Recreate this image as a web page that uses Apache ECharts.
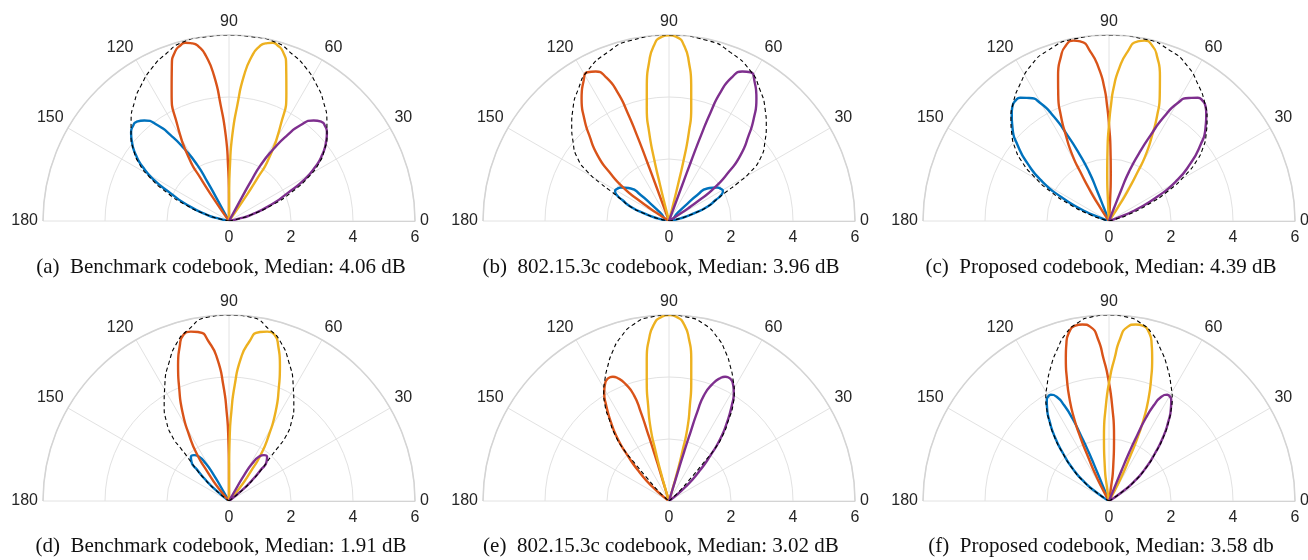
<!DOCTYPE html>
<html>
<head>
<meta charset="utf-8">
<script src="https://cdn.jsdelivr.net/npm/echarts@6/dist/echarts.min.js"></script>
<style>
html,body{margin:0;padding:0;background:#fff;}
#c{width:1308px;height:560px;}
</style>
</head>
<body>
<div id="c"></div>
<script>
// Data: each point is [radius, angle in degrees]
const angleTicks = [0, 30, 60, 90, 120, 150, 180];
const radiusTicks = [0, 2, 4, 6];
const captions = [
  '(a)  Benchmark codebook, Median: 4.06 dB',
  '(b)  802.15.3c codebook, Median: 3.96 dB',
  '(c)  Proposed codebook, Median: 4.39 dB',
  '(d)  Benchmark codebook, Median: 1.91 dB',
  '(e)  802.15.3c codebook, Median: 3.02 dB',
  '(f)  Proposed codebook, Median: 3.58 db'
];

// ---- (a) ----
const a_blue = [[0,118.3],[0.85,118.6],[1.44,118.85],[2.07,119.5],[2.75,121.8],[3.34,124.15],[3.85,126.7],[4.24,130.1],[4.38,133.2],[4.36,135.2],[4.27,137.7],[4.04,140.8],[3.68,144.7],[3.29,147.9],[2.75,151.3],[2.08,154.6],[1.44,159.0],[0.72,164.5],[0.3,167],[0,169]];
const a_red = [[0,89.6],[0.9,90.3],[1.8,91.0],[2.77,92.2],[3.74,94.1],[4.72,95.9],[5.39,98.0],[5.7,99.8],[5.85,101.6],[5.92,103.8],[5.88,105.4],[5.74,107.6],[5.34,110.2],[4.55,114.0],[3.51,118.3],[2.39,122.5],[1.65,123.6],[0.76,124.6],[0,125.4]];
const a_orange = [[0,54.6],[0.76,55.4],[1.65,56.4],[2.39,57.5],[3.51,61.7],[4.55,66.0],[5.34,69.8],[5.74,72.4],[5.88,74.6],[5.92,76.2],[5.85,78.4],[5.7,80.2],[5.39,82.0],[4.72,84.1],[3.74,85.9],[2.77,87.8],[1.8,89.0],[0.9,89.7],[0,90.4]];
const a_purple = [[0,11],[0.3,13],[0.72,15.5],[1.44,21.0],[2.08,25.4],[2.75,28.7],[3.29,32.1],[3.68,35.3],[4.04,39.2],[4.27,42.3],[4.36,44.8],[4.38,46.8],[4.24,49.9],[3.85,53.3],[3.34,55.85],[2.75,58.2],[2.07,60.5],[1.44,61.15],[0.85,61.4],[0,61.7]];
const a_env = [[0,9],[0.3,12],[0.72,15.5],[1.49,20.3],[2.24,24.8],[2.94,29],[3.44,32.6],[3.83,36.6],[4.2,41.2],[4.49,45.3],[4.9,51.5],[5.21,57],[5.54,63.6],[5.76,69.3],[5.96,75.4],[5.99,83.3],[6.0,90],[5.99,96.7],[5.96,104.6],[5.76,110.7],[5.54,116.4],[5.21,123],[4.9,128.5],[4.49,134.7],[4.2,138.8],[3.83,143.4],[3.44,147.4],[2.94,151],[2.24,155.2],[1.49,159.7],[0.72,164.5],[0.3,168],[0,171]];

// ---- (b) ----
const b_blue = [[0,8],[0.38,13],[0.84,17],[1.32,20.5],[1.65,24.2],[1.88,26.4],[1.99,29.05],[1.96,32],[1.89,34.9],[1.62,40.4],[1.24,42.5],[0.82,43.2],[0.4,43.5],[0,43.7],[0,90],[0,136.3],[0.4,136.5],[0.82,136.8],[1.24,137.5],[1.62,139.6],[1.89,145.1],[1.96,148],[1.99,150.95],[1.88,153.6],[1.65,155.8],[1.32,159.5],[0.84,163],[0.38,167],[0,172]];
const b_red = [[0,109.8],[1.23,110.2],[2.03,110.3],[2.95,110.5],[3.76,110.95],[4.48,111.8],[5.07,113.7],[5.37,116.1],[5.47,118.7],[5.3,121.3],[4.85,125.55],[4.29,129.6],[3.78,132.9],[3.13,137.4],[2.5,140.6],[1.79,144.0],[1.1,145.7],[0.5,146.8],[0,147.5]];
const b_orange = [[0,75.7],[0.5,75.9],[1.19,76.1],[2.07,76.5],[2.94,77.4],[3.69,78.8],[4.43,80.7],[5.16,82.85],[5.68,85.1],[5.93,87.4],[5.99,90],[5.93,92.6],[5.68,94.9],[5.16,97.15],[4.43,99.3],[3.69,101.2],[2.94,102.6],[2.07,103.5],[1.19,103.9],[0.5,104.1],[0,104.3]];
const b_purple = [[0,32.5],[0.5,33.2],[1.1,34.3],[1.79,36.0],[2.5,39.4],[3.13,42.6],[3.78,47.1],[4.29,50.4],[4.85,54.45],[5.3,58.7],[5.47,61.3],[5.37,63.9],[5.07,66.3],[4.48,68.2],[3.76,69.05],[2.95,69.5],[2.03,69.7],[1.23,69.8],[0,70.2]];
const b_env = [[0,8],[0.4,13],[0.86,17],[1.34,20.5],[1.68,24.2],[2.05,26.9],[2.55,28.9],[3.07,31.1],[3.57,34.4],[4.01,39.5],[4.4,44.5],[4.77,49.5],[5.17,55.6],[5.5,61.3],[5.79,70],[5.95,78],[6.0,90],[5.95,102],[5.79,110],[5.5,118.7],[5.17,124.4],[4.77,130.5],[4.4,135.5],[4.01,140.5],[3.57,145.6],[3.07,148.9],[2.55,151.1],[2.05,153.1],[1.68,155.8],[1.34,159.5],[0.86,163],[0.4,167],[0,172]];

// ---- (c) ----
const c_blue = [[0,111],[0.44,111.2],[1.06,111.5],[1.71,112.1],[2.38,113.9],[3.07,115.85],[3.79,117.8],[4.38,120.1],[4.73,123],[4.9,125.8],[4.92,127.6],[4.84,130],[4.67,132.2],[4.31,136.2],[3.83,140.3],[3.21,144.8],[2.49,149.5],[1.74,153.3],[0.99,157],[0.4,159.6],[0,161.5]];
const c_red = [[0,86.5],[0.7,87],[1.5,87.8],[2.3,88.8],[3.1,90],[3.75,91],[4.3,92],[4.92,93.75],[5.48,96.2],[5.86,98.95],[5.93,101.15],[5.83,103.8],[5.51,106.4],[4.97,109.3],[4.37,112],[3.75,114.5],[3.1,116.7],[2.43,119.1],[1.83,120.3],[1.11,122],[0.49,123.3],[0,124]];
const c_orange = [[0,56],[0.49,56.7],[1.11,58],[1.83,59.7],[2.43,60.9],[3.1,63.3],[3.75,65.5],[4.37,68],[4.97,70.7],[5.51,73.6],[5.83,76.2],[5.93,78.85],[5.86,81.05],[5.48,83.8],[4.92,86.25],[4.3,88],[3.75,89],[3.1,90],[2.3,91.2],[1.5,92.2],[0.7,93],[0,93.5]];
const c_purple = [[0,18.5],[0.4,20.4],[0.99,23],[1.74,26.7],[2.49,30.5],[3.21,35.2],[3.83,39.7],[4.31,43.8],[4.67,47.8],[4.84,50],[4.92,52.4],[4.9,54.2],[4.73,57],[4.38,59.9],[3.79,62.2],[3.07,64.15],[2.38,66.1],[1.71,67.9],[1.06,68.5],[0.44,68.8],[0,69]];
const c_env = [[0,13],[0.2,15],[0.62,18.1],[1.34,22.7],[2.1,26.7],[2.87,31],[3.45,34.6],[3.82,37.7],[4.18,41.5],[4.57,46.2],[4.9,50.9],[5.27,57.1],[5.61,63.3],[5.84,70.2],[5.98,79.2],[6.0,90],[5.98,100.8],[5.84,109.8],[5.61,116.7],[5.27,122.9],[4.9,129.1],[4.57,133.8],[4.18,138.5],[3.82,142.3],[3.45,145.4],[2.87,149],[2.1,153.3],[1.34,157.3],[0.62,161.9],[0.2,165],[0,167]];

// ---- (d) ----
const d_blue = [[0,119.8],[0.41,120],[0.97,120.3],[1.42,121.8],[1.72,124.1],[1.86,127.3],[1.88,130.8],[1.75,133.8],[1.42,135.6],[1.01,138],[0.56,140.5],[0,143.5]];
const d_red = [[0,89.8],[1.0,90.2],[2.01,90.6],[2.87,91.5],[3.73,92.8],[4.6,94.7],[5.16,97.15],[5.53,100.05],[5.6,102.7],[5.56,105.3],[5.26,107.55],[4.67,110.6],[3.96,113.9],[3.24,117.6],[2.48,121.2],[1.8,124.5],[1.17,126.4],[0.59,129.1],[0,131]];
const d_orange = [[0,49],[0.59,50.9],[1.17,53.6],[1.8,55.5],[2.48,58.8],[3.24,62.4],[3.96,66.1],[4.67,69.4],[5.26,72.45],[5.56,74.7],[5.6,77.3],[5.53,79.95],[5.16,82.85],[4.6,85.3],[3.73,87.2],[2.87,88.5],[2.01,89.4],[1.0,89.8],[0,90.2]];
const d_purple = [[0,36.5],[0.56,39.5],[1.01,42],[1.42,44.4],[1.75,46.2],[1.88,49.2],[1.86,52.7],[1.72,55.9],[1.42,58.2],[0.97,59.7],[0.41,60],[0,60.2]];
const d_env = [[0,35],[0.1,36.5],[0.62,39.5],[1.08,42],[1.45,44],[1.72,45.5],[2.0,46.8],[2.3,47.5],[2.76,48.6],[3.25,51.7],[3.73,55.9],[4.27,61],[4.88,66.7],[5.39,72],[5.66,76.3],[5.97,83.3],[6.0,90],[5.97,96.7],[5.66,103.7],[5.39,108],[4.88,113.3],[4.27,119],[3.73,124.1],[3.25,128.3],[2.76,131.4],[2.3,132.5],[2.0,133.2],[1.72,134.5],[1.45,136],[1.08,138],[0.62,140.5],[0.1,143.5],[0,145]];

// ---- (e) ----
const e_red = [[0,106.6],[1.1,107],[1.66,107.1],[2.34,107.35],[3.01,107.6],[3.59,108.3],[4.01,110.3],[4.3,112.7],[4.4,114.3],[4.42,115.9],[4.39,117.3],[4.31,118.55],[4.07,120.9],[3.69,123.3],[3.17,126.3],[2.61,129.5],[2.0,132.2],[1.35,135.6],[0.71,139.3],[0,142.5]];
const e_orange = [[0,73],[0.37,73.4],[0.98,74.1],[1.64,74.9],[2.41,75.8],[3.16,77.7],[3.9,79.4],[4.64,81.1],[5.27,83],[5.73,85.2],[5.93,87.4],[6.0,90],[5.93,92.6],[5.73,94.8],[5.27,97],[4.64,98.9],[3.9,100.6],[3.16,102.3],[2.41,104.2],[1.64,105.1],[0.98,105.9],[0.37,106.6],[0,107]];
const e_purple = [[0,37.5],[0.71,40.7],[1.35,44.4],[2.0,47.8],[2.61,50.5],[3.17,53.7],[3.69,56.7],[4.07,59.1],[4.31,61.45],[4.39,62.7],[4.42,64.1],[4.4,65.7],[4.3,67.3],[4.01,69.7],[3.59,71.7],[3.01,72.4],[2.34,72.65],[1.66,72.9],[1.1,73],[0,73.4]];
const e_env = [[0,40],[0.44,43],[1.01,46.3],[1.68,47.85],[2.22,48.7],[2.74,50.7],[3.23,53.6],[3.72,56.3],[4.1,59.1],[4.41,62],[4.75,65.3],[5.14,69.2],[5.51,73.6],[5.82,78.9],[5.96,84.3],[6.0,90],[5.96,95.7],[5.82,101.1],[5.51,106.4],[5.14,110.8],[4.75,114.7],[4.41,118],[4.1,120.9],[3.72,123.7],[3.23,126.4],[2.74,129.3],[2.22,131.3],[1.68,132.15],[1.01,133.7],[0.44,137],[0,140]];

// ---- (f) ----
const f_blue = [[0,112],[0.4,112.1],[1.02,112.3],[1.71,112.6],[2.31,113.2],[2.91,113.9],[3.41,115.1],[3.75,116.6],[3.91,118.7],[3.9,120.2],[3.82,121.7],[3.59,123.8],[3.19,126.8],[2.71,130.2],[2.13,134],[1.55,138.4],[0.99,142.5],[0.46,145.5],[0,148]];
const f_red = [[0,81],[0.4,81.5],[1.11,83],[2.07,85.5],[3.03,88],[4.0,90.5],[4.59,92.2],[5.24,93.9],[5.64,96],[5.76,98.6],[5.75,101.3],[5.59,103.3],[5.3,105],[4.79,106.9],[4.17,109],[3.54,111.1],[2.89,112.9],[2.21,114.3],[1.58,115.35],[0.94,117.1],[0.4,118.5],[0,119.5]];
const f_orange = [[0,60.5],[0.4,61.5],[0.94,62.9],[1.58,64.65],[2.21,65.7],[2.89,67.1],[3.54,68.9],[4.17,71],[4.79,73.1],[5.3,75],[5.59,76.7],[5.75,78.7],[5.76,81.4],[5.64,84],[5.24,86.1],[4.59,87.8],[4.0,89.5],[3.03,92],[2.07,94.5],[1.11,97],[0.4,98.5],[0,99]];
const f_purple = [[0,32],[0.46,34.5],[0.99,37.5],[1.55,41.6],[2.13,46],[2.71,49.8],[3.19,53.2],[3.59,56.2],[3.82,58.3],[3.9,59.8],[3.91,61.3],[3.75,63.4],[3.41,64.9],[2.91,66.1],[2.31,66.8],[1.71,67.4],[1.02,67.7],[0.4,67.9],[0,68]];
const f_env = [[0,32],[0.5,34.5],[1.02,37.5],[1.58,41.6],[2.16,46],[2.74,49.8],[3.22,53.2],[3.62,56.2],[3.88,58.3],[4.19,61.4],[4.71,66.5],[5.18,71.3],[5.57,75.5],[5.83,79.95],[5.96,84.3],[6.0,90],[5.96,95.7],[5.83,100.05],[5.57,104.5],[5.18,108.7],[4.71,113.5],[4.19,118.6],[3.88,121.7],[3.62,123.8],[3.22,126.8],[2.74,130.2],[2.16,134],[1.58,138.4],[1.02,142.5],[0.5,145.5],[0,148]];

const panels = [
  {blue:a_blue, red:a_red, orange:a_orange, purple:a_purple, env:a_env},
  {blue:b_blue, red:b_red, orange:b_orange, purple:b_purple, env:b_env},
  {blue:c_blue, red:c_red, orange:c_orange, purple:c_purple, env:c_env},
  {blue:d_blue, red:d_red, orange:d_orange, purple:d_purple, env:d_env},
  {blue:null,   red:e_red, orange:e_orange, purple:e_purple, env:e_env},
  {blue:f_blue, red:f_red, orange:f_orange, purple:f_purple, env:f_env}
];

const COLORS = {blue:'#0072BD', red:'#D95319', orange:'#EDB120', purple:'#7E2F8E'};
const centersX = [229, 669, 1109];
const centersY = [221, 501];
const captionY = [252, 531];
const R = 186;
const gridColor = '#e2e2e2';
const axisColor = '#d4d4d4';
const labelStyle = {fontFamily:'Liberation Sans, Arial, sans-serif', fontSize:16, color:'#262626'};

const polar = [], angleAxis = [], radiusAxis = [], series = [], title = [];
panels.forEach((p, i) => {
  const cx = centersX[i % 3], cy = centersY[Math.floor(i / 3)];
  polar.push({center:[cx, cy], radius:R});
  angleAxis.push({
    polarIndex:i, type:'value', min:angleTicks[0], max:angleTicks[angleTicks.length-1], interval:30,
    startAngle:0, endAngle:180, clockwise:false,
    axisLine:{show:true, lineStyle:{color:axisColor, width:1.5}},
    axisTick:{show:false},
    axisLabel:Object.assign({margin:5, padding:[3,0,0,0]}, labelStyle),
    splitLine:{show:true, lineStyle:{color:gridColor, width:1}}
  });
  radiusAxis.push({
    polarIndex:i, type:'value', min:radiusTicks[0], max:radiusTicks[radiusTicks.length-1], interval:2,
    axisLine:{show:true, lineStyle:{color:axisColor, width:1}},
    axisTick:{show:false},
    axisLabel:Object.assign({margin:-9, verticalAlign:'top'}, labelStyle),
    splitLine:{show:true, lineStyle:{color:gridColor, width:1}}
  });
  ['blue','red','orange','purple'].forEach(k => {
    if (!p[k]) return;
    series.push({type:'line', coordinateSystem:'polar', polarIndex:i, data:p[k],
      showSymbol:false, smooth:0.6, silent:true,
      lineStyle:{color:COLORS[k], width:2.4}, z:2});
  });
  series.push({type:'line', coordinateSystem:'polar', polarIndex:i, data:p.env,
    showSymbol:false, smooth:0.6, silent:true,
    lineStyle:{color:'#000', width:1.1, type:[4,3]}, z:3});
  title.push({text:captions[i], left:cx - 13, top:captionY[Math.floor(i / 3)], textAlign:'center',
    textStyle:{fontFamily:'Liberation Serif, Times New Roman, serif', fontSize:21, fontWeight:'normal', color:'#111'}});
});

const chart = echarts.init(document.getElementById('c'), null, {renderer:'canvas'});
chart.setOption({animation:false, backgroundColor:'#fff', title, polar, angleAxis, radiusAxis, series});
</script>
</body>
</html>
